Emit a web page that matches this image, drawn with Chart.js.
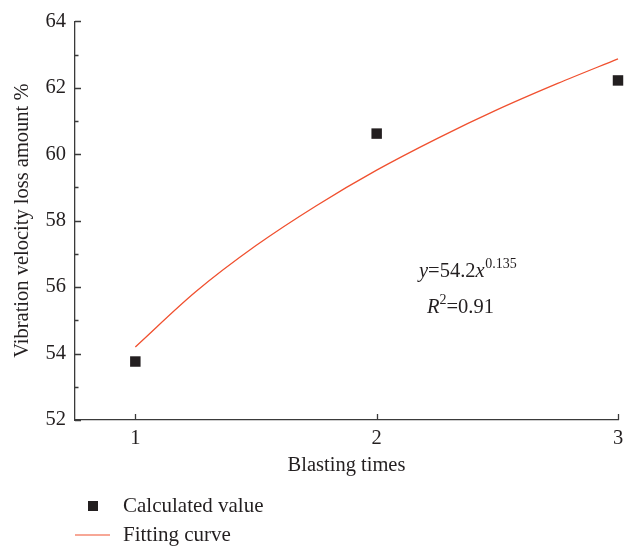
<!DOCTYPE html>
<html>
<head>
<meta charset="utf-8">
<script src="https://cdn.jsdelivr.net/npm/chart.js@4"></script>
<style>
  html, body { margin: 0; padding: 0; background: #fff; }
  #wrap { width: 636px; height: 547px; }
</style>
</head>
<body>
<div id="wrap"><canvas id="c" width="636" height="547"></canvas></div>
<script>
// Measured points: vibration velocity loss after each blast
const blastTimes = [1, 2, 3];
const lossValues = [53.76, 60.62, 62.22];

// Power-law fit y = 54.2 x^0.135, sampled along the blast range
const fitX = [1, 1.25, 1.5, 1.75, 2, 2.25, 2.5, 2.75, 3];
const fitY = [54.20, 55.86, 57.25, 58.45, 59.52, 60.47, 61.34, 62.13, 62.87];

const xTicks = [1, 2, 3];
const yTicks = [52, 54, 56, 58, 60, 62, 64];
const yMinorTicks = [53, 55, 57, 59, 61, 63];

const INK = '#231f20';
const AXIS = '#3a3a3a';
const RED = '#f0502f';
const FONT = "'Liberation Serif', 'Times New Roman', serif";
const FS = 20.5;

// Inward tick marks, legend and fit equation
const decor = {
  id: 'decor',
  afterDraw(chart) {
    const ctx = chart.ctx;
    const xs = chart.scales.x, ys = chart.scales.y;
    const area = chart.chartArea;
    ctx.save();
    ctx.strokeStyle = AXIS;
    ctx.lineWidth = 1.3;
    ctx.beginPath();
    yTicks.forEach(v => {
      const p = Math.round(ys.getPixelForValue(v)) + 0.5;
      ctx.moveTo(area.left, p); ctx.lineTo(area.left + 6, p);
    });
    yMinorTicks.forEach(v => {
      const p = Math.round(ys.getPixelForValue(v)) + 0.5;
      ctx.moveTo(area.left, p); ctx.lineTo(area.left + 3.5, p);
    });
    xTicks.forEach(v => {
      const p = Math.round(xs.getPixelForValue(v)) + 0.5;
      ctx.moveTo(p, area.bottom); ctx.lineTo(p, area.bottom - 6);
    });
    ctx.stroke();

    // Legend
    ctx.fillStyle = INK;
    ctx.fillRect(88, 501, 10, 10);
    ctx.strokeStyle = RED;
    ctx.lineWidth = 1.2;
    ctx.beginPath();
    ctx.moveTo(75, 535); ctx.lineTo(110, 535);
    ctx.stroke();
    ctx.font = '21px ' + FONT;
    ctx.textBaseline = 'middle';
    ctx.textAlign = 'left';
    ctx.fillStyle = INK;
    ctx.fillText('Calculated value', 123, 506);
    ctx.fillText('Fitting curve', 123, 535);

    // Fit equation
    ctx.textBaseline = 'alphabetic';
    let x = 419;
    const b1 = 277;
    ctx.font = 'italic ' + FS + 'px ' + FONT;
    ctx.fillText('y', x, b1); x += ctx.measureText('y').width;
    ctx.font = FS + 'px ' + FONT;
    ctx.fillText('=54.2', x, b1); x += ctx.measureText('=54.2').width;
    ctx.font = 'italic ' + FS + 'px ' + FONT;
    ctx.fillText('x', x, b1); x += ctx.measureText('x').width + 0.5;
    ctx.font = '14px ' + FONT;
    ctx.fillText('0.135', x, b1 - 9);

    x = 427;
    const b2 = 313;
    ctx.font = 'italic ' + FS + 'px ' + FONT;
    ctx.fillText('R', x, b2); x += ctx.measureText('R').width;
    ctx.font = '14px ' + FONT;
    ctx.fillText('2', x, b2 - 9); x += ctx.measureText('2').width;
    ctx.font = FS + 'px ' + FONT;
    ctx.fillText('=0.91', x, b2);
    ctx.restore();
  }
};

new Chart(document.getElementById('c'), {
  type: 'scatter',
  data: {
    datasets: [
      {
        label: 'Fitting curve',
        data: fitX.map((x, i) => ({ x, y: fitY[i] })),
        showLine: true,
        borderColor: RED,
        borderWidth: 1.3,
        pointRadius: 0,
        cubicInterpolationMode: 'monotone',
        fill: false,
        clip: false,
        order: 2
      },
      {
        label: 'Calculated value',
        data: blastTimes.map((x, i) => ({ x, y: lossValues[i] })),
        pointStyle: 'rect',
        pointRadius: 7.4,
        backgroundColor: INK,
        borderColor: INK,
        borderWidth: 0,
        showLine: false,
        clip: false,
        order: 1
      }
    ]
  },
  options: {
    responsive: false,
    animation: false,
    devicePixelRatio: 1,
    layout: { padding: { top: 15, right: 18, bottom: 67, left: 0 } },
    plugins: { legend: { display: false }, tooltip: { enabled: false } },
    scales: {
      x: {
        type: 'linear',
        min: 0.75,
        max: 3,
        afterBuildTicks: s => { s.ticks = xTicks.map(v => ({ value: v })); },
        afterFit: s => { s.height = 60; },
        grid: { display: false, drawTicks: false },
        border: { display: true, color: AXIS, width: 1.3 },
        ticks: { color: INK, padding: 6, font: { family: FONT, size: FS }, callback: v => v },
        title: { display: true, text: 'Blasting times', color: INK, font: { family: FONT, size: FS }, padding: { top: 0, bottom: 2 } }
      },
      y: {
        type: 'linear',
        min: 52,
        max: 64,
        afterBuildTicks: s => { s.ticks = yTicks.map(v => ({ value: v })); },
        afterFit: s => { s.width = 75; },
        grid: { display: false, drawTicks: false },
        border: { display: true, color: AXIS, width: 1.3 },
        ticks: { color: INK, padding: 9, font: { family: FONT, size: FS }, callback: v => v },
        title: { display: true, text: 'Vibration velocity loss amount %', color: INK, font: { family: FONT, size: FS }, padding: { top: 10, bottom: 0 } }
      }
    }
  },
  plugins: [decor]
});
</script>
</body>
</html>
